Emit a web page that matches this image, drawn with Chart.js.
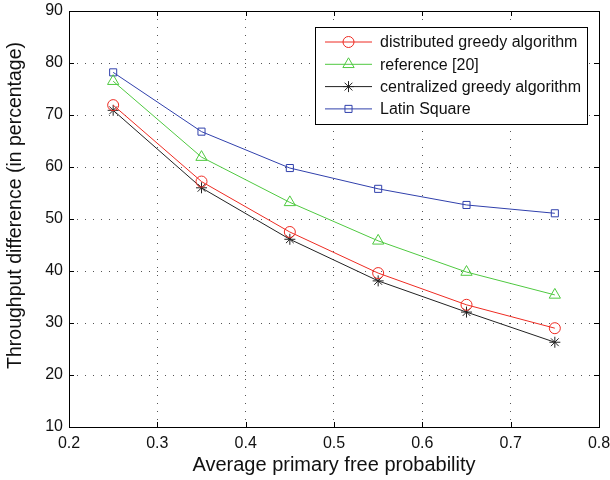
<!DOCTYPE html>
<html>
<head>
<meta charset="utf-8">
<script src="https://cdn.jsdelivr.net/npm/chart.js@4/dist/chart.umd.min.js"></script>
<style>
  html, body { margin: 0; padding: 0; background: #fff; }
  #wrap { width: 610px; height: 480px; }
</style>
</head>
<body>
<div id="wrap"><canvas id="chart" width="610" height="480"></canvas></div>
<script>
// data
const xVals = [0.25, 0.35, 0.45, 0.55, 0.65, 0.75];
const distributed = [71.9, 57.2, 47.5, 39.6, 33.5, 29.0];
const reference20 = [76.5, 61.9, 53.2, 45.8, 39.8, 35.4];
const centralized = [70.9, 56.0, 46.1, 38.1, 32.1, 26.3];
const latinSquare = [78.2, 66.8, 59.8, 55.8, 52.7, 51.1];
const xTicks = [0.2, 0.3, 0.4, 0.5, 0.6, 0.7, 0.8];
const yTicks = [10, 20, 30, 40, 50, 60, 70, 80, 90];

const FONT = "'Liberation Sans', Arial, sans-serif";

function pts(ys) {
  return xVals.map((x, i) => ({ x: x, y: ys[i] }));
}

function series(label, ys, color, style, radius) {
  return {
    label: label,
    data: pts(ys),
    borderColor: color,
    backgroundColor: "rgba(0,0,0,0)",
    pointBorderColor: color,
    pointBackgroundColor: "rgba(0,0,0,0)",
    pointStyle: style,
    pointRadius: radius,
    pointBorderWidth: 1,
    borderWidth: 1,
    tension: 0,
  };
}

// MATLAB-ish frame, inward ticks and boxed legend
const matlabFrame = {
  id: "matlabFrame",
  afterDraw(chart) {
    const ctx = chart.ctx;
    const a = chart.chartArea;
    const xs = chart.scales.x, ys = chart.scales.y;
    ctx.save();
    ctx.strokeStyle = "#000";
    ctx.lineWidth = 1;
    ctx.strokeRect(Math.round(a.left) + 0.5, Math.round(a.top) + 0.5,
      Math.round(a.right - a.left), Math.round(a.bottom - a.top));
    ctx.beginPath();
    xTicks.forEach(v => {
      const px = Math.round(xs.getPixelForValue(v)) + 0.5;
      ctx.moveTo(px, a.bottom); ctx.lineTo(px, a.bottom - 5);
      ctx.moveTo(px, a.top); ctx.lineTo(px, a.top + 5);
    });
    yTicks.forEach(v => {
      const py = Math.round(ys.getPixelForValue(v)) + 0.5;
      ctx.moveTo(a.left, py); ctx.lineTo(a.left + 5, py);
      ctx.moveTo(a.right, py); ctx.lineTo(a.right - 5, py);
    });
    ctx.stroke();

    // legend
    const lx = 315.5, ly = 27.5, lw = 272, lh = 97;
    ctx.fillStyle = "#fff";
    ctx.fillRect(lx, ly, lw, lh);
    ctx.strokeRect(lx, ly, lw, lh);
    ctx.font = "16px " + FONT;
    ctx.textBaseline = "middle";
    chart.data.datasets.forEach((ds, i) => {
      const y = 42 + i * 22.3;
      ctx.strokeStyle = ds.borderColor;
      ctx.fillStyle = "rgba(0,0,0,0)";
      ctx.lineWidth = 1;
      ctx.beginPath();
      ctx.moveTo(325, y); ctx.lineTo(372, y);
      ctx.stroke();
      if (Chart.helpers && Chart.helpers.drawPoint) {
        Chart.helpers.drawPoint(ctx, {
          pointStyle: ds.pointStyle, radius: ds.pointRadius,
          rotation: 0, borderWidth: 1
        }, 348.5, y);
      }
      ctx.fillStyle = "#111";
      ctx.fillText(ds.label, 380, y + 1);
    });
    ctx.restore();
  }
};

new Chart(document.getElementById("chart"), {
  type: "line",
  data: {
    datasets: [
      series("distributed greedy algorithm", distributed, "#ee2b22", "circle", 5.5),
      series("reference [20]", reference20, "#4fc940", "triangle", 6.5),
      series("centralized greedy algorithm", centralized, "#222222", "star", 5.5),
      series("Latin Square", latinSquare, "#3040ac", "rect", 5),
    ],
  },
  options: {
    responsive: false,
    animation: false,
    layout: { padding: { top: 11, right: 11, left: 0, bottom: 0 } },
    plugins: { legend: { display: false }, tooltip: { enabled: false } },
    scales: {
      x: {
        type: "linear",
        min: 0.2, max: 0.8,
        afterBuildTicks: s => { s.ticks = xTicks.map(v => ({ value: v })); },
        afterFit: s => { s.height = 53; s.paddingLeft = 0; s.paddingRight = 0; },
        grid: { color: "#555", lineWidth: 1, tickLength: 0, drawTicks: false },
        border: { display: false, dash: [1, 7] },
        ticks: { color: "#111", font: { family: FONT, size: 16 }, padding: 7,
                 maxRotation: 0, callback: v => Number(v).toFixed(1) },
        title: { display: true, text: "Average primary free probability", color: "#111",
                 font: { family: FONT, size: 20 }, padding: { top: 0, bottom: 3 } },
      },
      y: {
        min: 10, max: 90,
        afterBuildTicks: s => { s.ticks = yTicks.map(v => ({ value: v })); },
        afterFit: s => { s.width = 69; s.paddingTop = 0; s.paddingBottom = 0; },
        grid: { color: "#555", lineWidth: 1, tickLength: 0, drawTicks: false },
        border: { display: false, dash: [1, 7] },
        ticks: { color: "#111", font: { family: FONT, size: 16 }, padding: 6 },
        title: { display: true, text: "     Throughput difference (in percentage)", color: "#111",
                 font: { family: FONT, size: 19.5 }, padding: { top: 4, bottom: 0 } },
      },
    },
  },
  plugins: [matlabFrame],
});
</script>
</body>
</html>
